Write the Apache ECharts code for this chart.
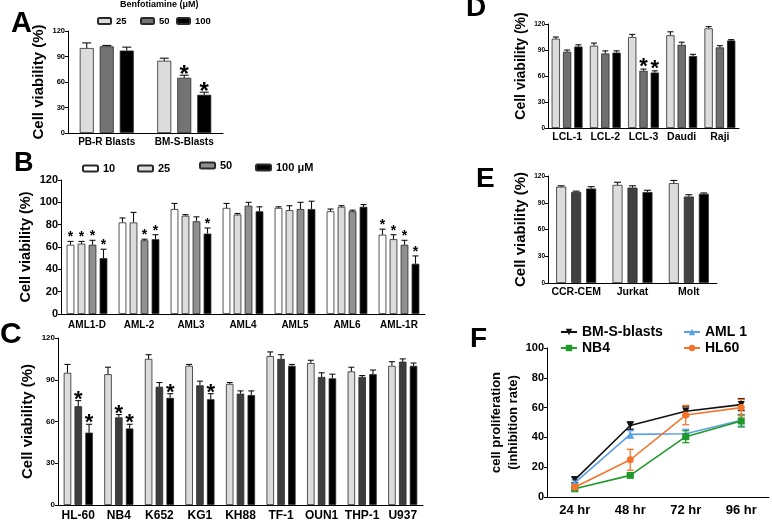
<!DOCTYPE html>
<html><head><meta charset="utf-8">
<script src="https://cdn.jsdelivr.net/npm/echarts@6/dist/echarts.min.js"></script>
<style>html,body{margin:0;padding:0;background:#fff}#c{width:772px;height:522px}</style>
</head><body><div id="c"></div>
<script>
// ---------- Panel A ----------
const aCategories = ['PB-R Blasts', 'BM-S-Blasts'];
const a25 = [100, 85], a25Err = [6, 3], a25Star = [0, 0];
const a50 = [102, 65], a50Err = [1, 3], a50Star = [0, 1];
const a100 = [97, 45], a100Err = [4, 3], a100Star = [0, 1];
// ---------- Panel B ----------
const bCategories = ['AML1-D', 'AML-2', 'AML3', 'AML4', 'AML5', 'AML6', 'AML-1R'];
const b10 = [62, 82, 94, 95, 95, 92, 71], b10Err = [3, 4, 5, 4, 1, 2, 5], b10Star = [1, 0, 0, 0, 0, 0, 1];
const b25 = [63, 82, 88, 89, 93, 96, 67], b25Err = [2, 9, 1, 1, 4, 1, 4], b25Star = [1, 0, 0, 0, 0, 0, 1];
const b50 = [62, 66, 83, 97, 94, 92, 62], b50Err = [4, 1, 4, 3, 6, 1, 4], b50Star = [1, 1, 0, 0, 0, 0, 1];
const b100 = [50, 67, 72, 92, 94, 96, 45], b100Err = [8, 4, 5, 4, 7, 2, 7], b100Star = [1, 1, 1, 0, 0, 0, 1];
// ---------- Panel C ----------
const cCategories = ['HL-60', 'NB4', 'K652', 'KG1', 'KH88', 'TF-1', 'OUN1', 'THP-1', 'U937'];
const c25 = [95, 94, 105, 100, 87, 107, 102, 96, 100], c25Err = [6, 5, 3, 1, 1, 3, 2, 3, 3], c25Star = [0, 0, 0, 0, 0, 0, 0, 0, 0];
const c50 = [71, 63, 85, 86, 80, 105, 92, 92, 103], c50Err = [4, 2, 3, 3, 2, 3, 3, 1, 2], c50Star = [1, 1, 0, 0, 0, 0, 0, 0, 0];
const c100 = [52, 55, 77, 76, 79, 100, 91, 94, 100], c100Err = [6, 3, 3, 4, 3, 1, 3, 3, 2], c100Star = [1, 1, 1, 1, 0, 0, 0, 0, 0];
// ---------- Panel D ----------
const dCategories = ['LCL-1', 'LCL-2', 'LCL-3', 'Daudi', 'Raji'];
const d25 = [103, 95, 105, 107, 115], d25Err = [2, 3, 3, 4, 2], d25Star = [0, 0, 0, 0, 0];
const d50 = [88, 86, 66, 96, 93], d50Err = [2, 3, 2, 3, 2], d50Star = [0, 0, 1, 0, 0];
const d100 = [94, 87, 64, 83, 101], d100Err = [2, 2, 2, 2, 1], d100Star = [0, 0, 1, 0, 0];
// ---------- Panel E ----------
const eCategories = ['CCR-CEM', 'Jurkat', 'Molt'];
const e25 = [108, 110, 112], e25Err = [1, 3, 3];
const e50 = [102, 107, 97], e50Err = [1, 2, 2];
const e100 = [106, 102, 100], e100Err = [2, 2, 1];
// ---------- Panel F ----------
const fTimes = ['24 hr', '48 hr', '72 hr', '96 hr'];
const fBMS = [11.5, 48, 57.5, 62], fBMSErr = [2, 2.5, 3, 4];
const fAML1 = [9.5, 42, 42.5, 51.5], fAML1Err = [2, 2.5, 3, 4];
const fNB4 = [5.5, 14.5, 40.5, 51], fNB4Err = [1, 1, 4, 4];
const fHL60 = [6.5, 25, 55, 60], fHL60Err = [2, 7, 6.5, 5.5];

const FONT = "'Liberation Sans', Arial, Helvetica, sans-serif";

function catAxis(i, data, fs, margin) {
  return { gridIndex: i, type: 'category', data,
    axisLine: { lineStyle: { color: '#000', width: 1 } },
    axisTick: { alignWithLabel: true, length: 3, lineStyle: { color: '#000' } },
    axisLabel: { interval: 0, fontSize: fs, fontWeight: 'bold', color: '#000', fontFamily: FONT, margin } };
}
function valAxis(i, max, interval, fs, name, nameFs, nameGap, pad) {
  return { gridIndex: i, type: 'value', min: 0, max, interval,
    axisLine: { show: true, lineStyle: { color: '#000', width: 1 } },
    axisTick: { show: true, length: 3, lineStyle: { color: '#000' } },
    splitLine: { show: false },
    axisLabel: { fontSize: fs, fontWeight: 'bold', color: '#000', fontFamily: FONT, margin: 3 },
    name, nameLocation: 'middle', nameRotate: 90, nameGap,
    nameTextStyle: { fontSize: nameFs, fontWeight: 'bold', color: '#000', fontFamily: FONT,
      lineHeight: nameFs + 4, padding: pad || 0 } };
}
function bar(name, axis, data, color, w, gap) {
  return { type: 'bar', name, xAxisIndex: axis, yAxisIndex: axis, data, barWidth: w,
    barGap: (gap / w * 100) + '%', silent: true,
    itemStyle: { color, borderColor: '#2a2a2a', borderWidth: 0.8 } };
}
function errBars(axis, vals, errs, stars, w, gap, capHalf, starFont, starDy) {
  const n = vals.length, data = [];
  vals.forEach((vs, i) => vs.forEach((v, j) => data.push([j, v, errs[i][j], stars ? stars[i][j] : 0, i])));
  return { type: 'custom', xAxisIndex: axis, yAxisIndex: axis, data, z: 5, silent: true,
    encode: { x: 0, y: 1 },
    renderItem(params, api) {
      const j = api.value(0), v = api.value(1), e = api.value(2), s = api.value(3), i = api.value(4);
      const off = (i - (n - 1) / 2) * (w + gap);
      const p0 = api.coord([j, v]), p1 = api.coord([j, v + e]);
      const x = p0[0] + off;
      const st = { stroke: '#111', lineWidth: 1.1 };
      const ch = [
        { type: 'line', shape: { x1: x, y1: p0[1], x2: x, y2: p1[1] }, style: st },
        { type: 'line', shape: { x1: x - capHalf, y1: p1[1], x2: x + capHalf, y2: p1[1] }, style: st }
      ];
      if (s) ch.push({ type: 'text', x: x, y: p1[1] + starDy,
        style: { text: '*', font: starFont, fill: '#000', align: 'center', verticalAlign: 'middle' } });
      return { type: 'group', children: ch };
    } };
}
function lineErr(axis, vals, errs, colors) {
  const data = [];
  vals.forEach((vs, i) => vs.forEach((v, j) => data.push([j, v, errs[i][j], i])));
  return { type: 'custom', xAxisIndex: axis, yAxisIndex: axis, data, z: 3, silent: true,
    encode: { x: 0, y: 1 },
    renderItem(params, api) {
      const j = api.value(0), v = api.value(1), e = api.value(2), i = api.value(3);
      const pt = api.coord([j, v + e]), pb = api.coord([j, v - e]);
      const x = pt[0], c = 3.5;
      const st = { stroke: colors[i], lineWidth: 1.3 };
      return { type: 'group', children: [
        { type: 'line', shape: { x1: x, y1: pt[1], x2: x, y2: pb[1] }, style: st },
        { type: 'line', shape: { x1: x - c, y1: pt[1], x2: x + c, y2: pt[1] }, style: st },
        { type: 'line', shape: { x1: x - c, y1: pb[1], x2: x + c, y2: pb[1] }, style: st }
      ] };
    } };
}
function lineS(name, data, color, symbol, rot) {
  return { type: 'line', name, xAxisIndex: 5, yAxisIndex: 5, data, symbol, symbolSize: 7,
    symbolRotate: rot || 0, z: 4, silent: true,
    lineStyle: { color, width: 1.6 }, itemStyle: { color } };
}
function letter(t, x, y, fs) {
  return { type: 'text', left: x, top: y, silent: true,
    style: { text: t, font: 'bold ' + fs + 'px ' + FONT, fill: '#000' } };
}
function legendOne(names, left, top, fs, iw, ih, orient) {
  return { data: names, left, top, padding: 0, orient: orient || 'horizontal', itemGap: 2,
    itemWidth: iw, itemHeight: ih, selectedMode: false,
    textStyle: { fontSize: fs, fontWeight: 'bold', color: '#000', fontFamily: FONT } };
}

const COL = { light: '#dcdcdc', white: '#ffffff' };
const fColors = ['#111111', '#5aa0e6', '#1f9a2a', '#f5742a'];

const option = {
  animation: false,
  textStyle: { fontFamily: FONT, fontWeight: 'bold', color: '#000' },
  grid: [
    { left: 68, top: 31, width: 155, height: 102 },
    { left: 61, top: 180, width: 364, height: 134 },
    { left: 58, top: 338, width: 365, height: 169 },
    { left: 548, top: 24, width: 191, height: 104 },
    { left: 548, top: 176, width: 169, height: 107 },
    { left: 547, top: 348, width: 222, height: 149 }
  ],
  xAxis: [
    catAxis(0, aCategories, 10, 4),
    catAxis(1, bCategories, 10, 6),
    catAxis(2, cCategories, 12, 5),
    catAxis(3, dCategories, 10.5, 4),
    catAxis(4, eCategories, 10.5, 4),
    catAxis(5, fTimes, 13, 7)
  ],
  yAxis: [
    valAxis(0, 120, 30, 7.5, 'Cell viability (%)', 15, 15),
    valAxis(1, 120, 20, 11, 'Cell viability (%)', 14.5, 22),
    valAxis(2, 120, 30, 8, 'Cell viability (%)', 15, 16),
    valAxis(3, 120, 30, 6.5, 'Cell viability (%)', 14, 15, [0, 0, 0, 20]),
    valAxis(4, 120, 30, 6.5, 'Cell viability (%)', 15, 15),
    valAxis(5, 100, 20, 11, 'cell proliferation\n(inhibition rate)', 13, 20)
  ],
  legend: [
    legendOne(['25'], 97, 16, 9.5, 13, 6),
    legendOne(['50'], 140, 16, 9.5, 13, 6),
    legendOne(['100'], 176, 16, 9.5, 13, 6),
    legendOne(['10'], 82, 163, 11, 15, 6),
    legendOne(['25 '], 137, 163, 11, 15, 6),
    legendOne(['50 '], 199, 160, 11, 15, 6),
    legendOne(['100 μM'], 255, 162, 11, 15, 6),
    legendOne(['BM-S-blasts', 'NB4'], 560, 325, 14, 16, 8, 'vertical'),
    legendOne(['AML 1', 'HL60'], 683, 325, 14, 16, 8, 'vertical')
  ],
  graphic: [
    letter('A', 11, 9, 29),
    letter('B', 14, 150, 27),
    letter('C', 0, 320, 30),
    letter('D', 466, -6, 28),
    letter('E', 476, 165, 28),
    letter('F', 470, 325, 28),
    { type: 'text', left: 120, top: 0, silent: true,
      style: { text: 'Benfotiamine (μM)', font: 'bold 9px ' + FONT, fill: '#000' } }
  ],
  series: [
    bar('25', 0, a25, COL.light, 14, 6),
    bar('50', 0, a50, '#737373', 14, 6),
    bar('100', 0, a100, '#000', 14, 6),
    errBars(0, [a25, a50, a100], [a25Err, a50Err, a100Err], [a25Star, a50Star, a100Star], 14, 6, 4.5, 'bold 24px ' + FONT, 0),

    bar('10', 1, b10, COL.white, 7.7, 3.3),
    bar('25 ', 1, b25, COL.light, 7.7, 3.3),
    bar('50 ', 1, b50, '#8f8f8f', 7.7, 3.3),
    bar('100 μM', 1, b100, '#000', 7.7, 3.3),
    errBars(1, [b10, b25, b50, b100], [b10Err, b25Err, b50Err, b100Err], [b10Star, b25Star, b50Star, b100Star], 7.7, 3.3, 3, 'bold 14px ' + FONT, -4),

    bar('c25', 2, c25, COL.light, 7.5, 3.3),
    bar('c50', 2, c50, '#3d3d3d', 7.5, 3.3),
    bar('c100', 2, c100, '#000', 7.5, 3.3),
    errBars(2, [c25, c50, c100], [c25Err, c50Err, c100Err], [c25Star, c50Star, c100Star], 7.5, 3.3, 3, 'bold 22px ' + FONT, -1),

    bar('d25', 3, d25, COL.light, 8.3, 3),
    bar('d50', 3, d50, '#6f6f6f', 8.3, 3),
    bar('d100', 3, d100, '#000', 8.3, 3),
    errBars(3, [d25, d50, d100], [d25Err, d50Err, d100Err], [d25Star, d50Star, d100Star], 8.3, 3, 3, 'bold 22px ' + FONT, -2),

    bar('e25', 4, e25, COL.light, 10, 5),
    bar('e50', 4, e50, '#404040', 10, 5),
    bar('e100', 4, e100, '#000', 10, 5),
    errBars(4, [e25, e50, e100], [e25Err, e50Err, e100Err], null, 10, 5, 3.5, '', 0),

    lineS('BM-S-blasts', fBMS, fColors[0], 'triangle', 180),
    lineS('AML 1', fAML1, fColors[1], 'triangle'),
    lineS('NB4', fNB4, fColors[2], 'rect'),
    lineS('HL60', fHL60, fColors[3], 'circle'),
    lineErr(5, [fBMS, fAML1, fNB4, fHL60], [fBMSErr, fAML1Err, fNB4Err, fHL60Err], fColors)
  ]
};
const chart = echarts.init(document.getElementById('c'), null, { renderer: 'canvas' });
chart.setOption(option);
</script></body></html>
